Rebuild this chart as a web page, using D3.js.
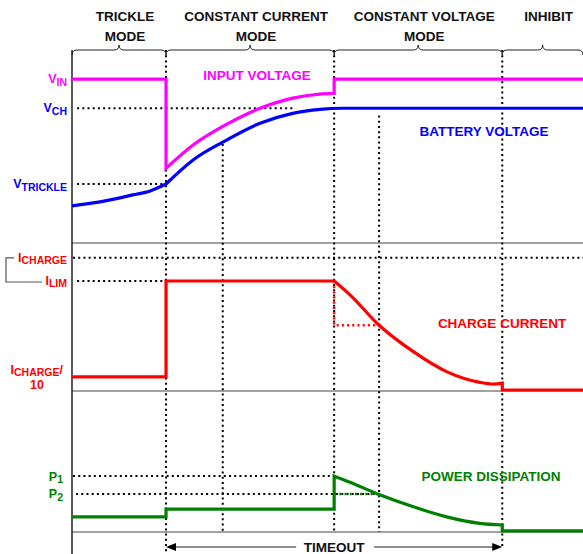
<!DOCTYPE html>
<html>
<head>
<meta charset="utf-8">
<script src="https://cdn.jsdelivr.net/npm/d3@7"></script>
<style>
  html, body { margin: 0; padding: 0; background: #fff; }
  svg { display: block; }
  text { font-family: "Liberation Sans", Arial, sans-serif; font-weight: bold; }
</style>
</head>
<body>
<div id="chart"></div>
<script>
// ---- data (time in arbitrary units, 0..100) ----
const modeLabels = [["TRICKLE", "MODE"], ["CONSTANT CURRENT", "MODE"], ["CONSTANT VOLTAGE", "MODE"], ["INHIBIT"]];
const phaseTimes = [0, 18.4, 51.3, 84.2, 100];
const crossMarks = [[29.5, 3.22], [60.1, 4.0]]; // [time, voltage where dotted line starts]

const V_IN = 5.0, V_CH = 4.2, V_TRICKLE = 2.12;
const I_CHARGE = 1.0, I_LIM = 0.825, I_TRICKLE = 0.1;
const P_1 = 1.0, P_2 = 0.68;

const inputVoltage = [
  [[0, 5.0], [18.4, 5.0], [18.4, 2.55]],
  [[18.4, 2.55], [23.7, 3.19], [29.5, 3.70], [36.8, 4.20], [43.2, 4.48], [48.5, 4.59], [51.3, 4.61]],
  [[51.3, 4.61], [51.3, 5.0], [100, 5.0]]
];
const batteryVoltage = [
  [[0, 1.52], [5.5, 1.63], [11.9, 1.82], [15.3, 1.93], [18.4, 2.12]],
  [[18.4, 2.12], [23.7, 2.78], [29.5, 3.27], [36.8, 3.79], [43.2, 4.06], [48.5, 4.17], [53, 4.2], [100, 4.2]]
];
const chargeCurrent = [
  [[0, 0.1], [18.4, 0.1], [18.4, 0.825], [51.3, 0.825]],
  [[51.3, 0.825], [54.4, 0.72], [60.1, 0.49], [66.8, 0.29], [73.3, 0.139], [79.8, 0.058], [82.4, 0.045], [84.2, 0.052]],
  [[84.2, 0.052], [84.2, 0], [100, 0]]
];
const currentRef = [[51.3, 0.825], [51.3, 0.49], [60.1, 0.49]];
const powerDissipation = [
  [[0, 0.27], [18.4, 0.27], [18.4, 0.41], [51.3, 0.41], [51.3, 1.0]],
  [[51.3, 1.0], [54.4, 0.89], [60.1, 0.67], [66.8, 0.45], [73.3, 0.27], [79.8, 0.155], [84.2, 0.125]],
  [[84.2, 0.125], [84.2, 0.02], [100, 0.02]]
];
const powerRef = [[51.3, 0.68], [60.1, 0.68]];

// dotted reference levels: [value, from time, to time]
const voltRefs = [[V_CH, 1.0, 43.2], [V_TRICKLE, 1.0, 18.4]];
const currRefs = [[I_CHARGE, 0.2, 100], [I_LIM, 1.0, 18.4]];
const powRefs = [[P_1, 0.2, 51.3], [P_2, 0.8, 60.1]];

// ---- layout ----
const SIZE = { width: 583, height: 554 };
const AXIS_X = 72, BRACE_Y = 50;
const COLORS = { vin: "#ff00ff", bat: "#0000ff", cur: "#ff0000", pow: "#008000" };

const x = d3.scaleLinear().domain([0, 100]).range([AXIS_X, SIZE.width]);
const yV = d3.scaleLinear().domain([0.5, 5.8]).range([243, 50]);
const yI = d3.scaleLinear().domain([0, 1.12]).range([390, 242]);
const yP = d3.scaleLinear().domain([0, 2.52]).range([532, 391]);

const svg = d3.select("#chart").append("svg")
  .attr("width", SIZE.width).attr("height", SIZE.height)
  .style("background", "#fff");

function dotted(g, pts, color, w) {
  g.append("path")
    .attr("d", d3.line()(pts))
    .attr("fill", "none")
    .attr("stroke", color || "#000")
    .attr("stroke-width", w || 2)
    .attr("stroke-dasharray", "2,3.2");
}

function seriesPath(yScale, segs) {
  return segs.map((s, i) => {
    const step = s.some((p, j) => j > 0 && p[0] === s[j - 1][0]);
    const d = d3.line().x(p => x(p[0])).y(p => yScale(p[1]))
      .curve(step ? d3.curveLinear : d3.curveMonotoneX)(s);
    return i ? d.replace(/^M[^A-Za-z]*/, "") : d;
  }).join("");
}

// separators
[243, 391, 532].forEach(y => {
  svg.append("line").attr("x1", AXIS_X).attr("x2", SIZE.width).attr("y1", y).attr("y2", y)
    .attr("stroke", "#444").attr("stroke-width", 1.2);
});

// braces + headers
function brace(x1, x2, y) {
  const m = (x1 + x2) / 2, r = 5;
  return `M${x1},${y + 5} Q${x1},${y} ${x1 + r},${y} L${m - r},${y} Q${m},${y} ${m},${y - 5}` +
         ` Q${m},${y} ${m + r},${y} L${x2 - r},${y} Q${x2},${y} ${x2},${y + 5}`;
}
modeLabels.forEach((lines, i) => {
  const x1 = x(phaseTimes[i]), x2 = x(phaseTimes[i + 1]);
  svg.append("path").attr("d", brace(x1, x2, BRACE_Y))
    .attr("fill", "none").attr("stroke", "#222").attr("stroke-width", 1);
  lines.forEach((t, j) => {
    svg.append("text").attr("x", (x1 + x2) / 2 + 6).attr("y", 21 + j * 20)
      .attr("text-anchor", "middle").attr("font-size", 13.5).attr("fill", "#111").text(t);
  });
});

// vertical dotted lines
dotted(svg, [[x(phaseTimes[1]), BRACE_Y], [x(phaseTimes[1]), SIZE.height]]);
dotted(svg, [[x(phaseTimes[2]), BRACE_Y], [x(phaseTimes[2]), 532]]);
dotted(svg, [[x(phaseTimes[3]), BRACE_Y], [x(phaseTimes[3]), 549]]);
crossMarks.forEach(([t, v]) => dotted(svg, [[x(t), yV(v)], [x(t), 532]]));

// horizontal reference levels
voltRefs.forEach(([v, a, b]) => dotted(svg, [[x(a), yV(v)], [x(b), yV(v)]]));
currRefs.forEach(([v, a, b]) => dotted(svg, [[x(a), yI(v)], [x(b), yI(v)]]));
powRefs.forEach(([v, a, b]) => dotted(svg, [[x(a), yP(v)], [x(b), yP(v)]]));

// left axis
svg.append("line").attr("x1", AXIS_X).attr("x2", AXIS_X).attr("y1", BRACE_Y).attr("y2", SIZE.height)
  .attr("stroke", "#000").attr("stroke-width", 1.3);

// reference dotted in series colour
dotted(svg, currentRef.map(p => [x(p[0]), yI(p[1])]), COLORS.cur, 2.6);
dotted(svg, powerRef.map(p => [x(p[0]), yP(p[1])]), COLORS.pow, 2.6);

// series
[[batteryVoltage, yV, COLORS.bat], [inputVoltage, yV, COLORS.vin],
 [chargeCurrent, yI, COLORS.cur], [powerDissipation, yP, COLORS.pow]].forEach(([segs, ys, c]) => {
  svg.append("path").attr("d", seriesPath(ys, segs))
    .attr("fill", "none").attr("stroke", c).attr("stroke-width", 3.2)
    .attr("stroke-linejoin", "miter");
});

// series titles
const titles = [
  ["INPUT VOLTAGE", 257, 80, COLORS.vin],
  ["BATTERY VOLTAGE", 484, 136, COLORS.bat],
  ["CHARGE CURRENT", 502, 328, COLORS.cur],
  ["POWER DISSIPATION", 491, 481, COLORS.pow]
];
titles.forEach(([t, tx, ty, c]) => {
  svg.append("text").attr("x", tx).attr("y", ty).attr("text-anchor", "middle")
    .attr("font-size", 13.5).attr("fill", c).text(t);
});

// level labels with subscripts
function level(parts, y, color, xr) {
  const t = svg.append("text").attr("x", xr || 67).attr("y", y)
    .attr("text-anchor", "end").attr("fill", color);
  let shift = 0;
  parts.forEach(([s, sub]) => {
    const target = sub ? 2.5 : 0;
    t.append("tspan").attr("font-size", sub ? 10.5 : 12.5).attr("dy", target - shift).text(s);
    shift = target;
  });
}
level([["V"], ["IN", 1]], yV(V_IN) + 4, COLORS.vin);
level([["V"], ["CH", 1]], yV(V_CH) + 4, COLORS.bat);
level([["V"], ["TRICKLE", 1]], yV(V_TRICKLE) + 4, COLORS.bat);
level([["I"], ["CHARGE", 1]], yI(I_CHARGE) + 4, COLORS.cur);
level([["I"], ["LIM", 1]], yI(I_LIM) + 4, COLORS.cur);
level([["I"], ["CHARGE", 1], ["/"]], yI(I_TRICKLE) - 3, COLORS.cur, 63);
svg.append("text").attr("x", 37).attr("y", yI(I_TRICKLE) + 12).attr("text-anchor", "middle")
  .attr("font-size", 12.5).attr("fill", COLORS.cur).text("10");
level([["P"], ["1", 1]], yP(P_1) + 4.5, COLORS.pow, 63);
level([["P"], ["2", 1]], yP(P_2) + 4.5, COLORS.pow, 63);

// bracket linking I_CHARGE and I_LIM
svg.append("path")
  .attr("d", `M14,${yI(I_CHARGE)} H6 V${yI(I_LIM) + 1} H42`)
  .attr("fill", "none").attr("stroke", "#555").attr("stroke-width", 1.2);

// timeout arrow
const ay = 547, ax1 = x(phaseTimes[1]), ax2 = x(phaseTimes[3]), amid = (ax1 + ax2) / 2;
const arrow = svg.append("g").attr("stroke", "#222").attr("fill", "#000");
arrow.append("line").attr("x1", ax1 + 8).attr("x2", amid - 38).attr("y1", ay).attr("y2", ay).attr("stroke-width", 1.2);
arrow.append("line").attr("x1", amid + 40).attr("x2", ax2 - 8).attr("y1", ay).attr("y2", ay).attr("stroke-width", 1.2);
arrow.append("path").attr("d", `M${ax1},${ay} L${ax1 + 10},${ay - 4} L${ax1 + 10},${ay + 4} Z`).attr("stroke", "none");
arrow.append("path").attr("d", `M${ax2},${ay} L${ax2 - 10},${ay - 4} L${ax2 - 10},${ay + 4} Z`).attr("stroke", "none");
svg.append("text").attr("x", amid).attr("y", 551.5).attr("text-anchor", "middle")
  .attr("font-size", 13.5).attr("fill", "#111").text("TIMEOUT");
</script>
</body>
</html>
